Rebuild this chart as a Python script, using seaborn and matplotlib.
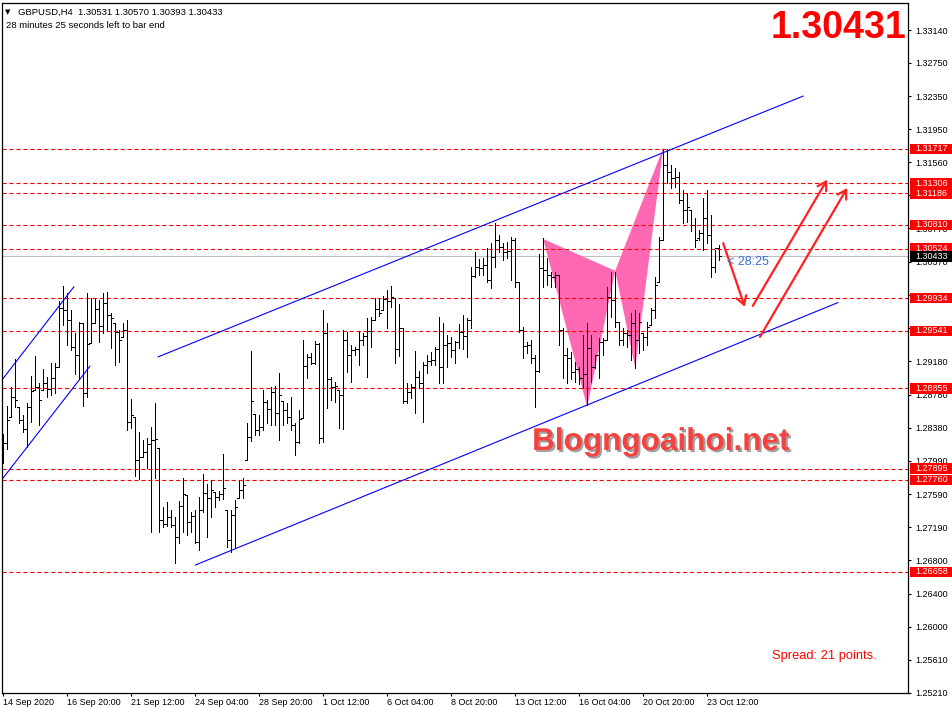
import numpy as np
import pandas as pd
import matplotlib
matplotlib.use('Agg')
import matplotlib.pyplot as plt
import matplotlib.patheffects as pe
from matplotlib.patches import Rectangle
from matplotlib.transforms import blended_transform_factory
import seaborn as sns

sns.set_theme(style='white')
plt.rcParams['font.family'] = ['Liberation Sans', 'DejaVu Sans']
plt.rcParams['lines.scale_dashes'] = False

# ---------------- data (GBPUSD H4 bars) ----------------
opens = [1.2806, 1.2820, 1.2851, 1.2875, 1.2863, 1.2848, 1.2837, 1.2863, 1.2884, 1.2887,
         1.2884, 1.2892, 1.2885, 1.2898, 1.2911, 1.2982, 1.2979, 1.2967, 1.2935, 1.2925,
         1.2964, 1.2880, 1.2940, 1.2964, 1.2980, 1.2960, 1.2988, 1.2973, 1.2964, 1.2953,
         1.2947, 1.2955, 1.2845, 1.2851, 1.2800, 1.2803, 1.2809, 1.2819, 1.2824, 1.2814,
         1.2728, 1.2723, 1.2732, 1.2722, 1.2707, 1.2745, 1.2758, 1.2725, 1.2733, 1.2702,
         1.2740, 1.2760, 1.2754, 1.2762, 1.2756, 1.2759, 1.2740, 1.2704, 1.2734, 1.2754,
         1.2764, 1.2800, 1.2827, 1.2855, 1.2836, 1.2839, 1.2869, 1.2861, 1.2881, 1.2856,
         1.2870, 1.2860, 1.2851, 1.2842, 1.2821, 1.2850, 1.2912, 1.2923, 1.2916, 1.2939,
         1.2826, 1.2952, 1.2896, 1.2887, 1.2884, 1.2878, 1.2943, 1.2925, 1.2931, 1.2933,
         1.2943, 1.2948, 1.2954, 1.2967, 1.2980, 1.2979, 1.2992, 1.2990, 1.2994, 1.2933,
         1.2957, 1.2870, 1.2881, 1.2887, 1.2899, 1.2892, 1.2913, 1.2918, 1.2919, 1.2933,
         1.2911, 1.2937, 1.2940, 1.2931, 1.2941, 1.2953, 1.2948, 1.2967, 1.3020, 1.3031,
         1.3029, 1.3033, 1.3015, 1.3043, 1.3063, 1.3055, 1.3049, 1.3050, 1.3063, 1.3013,
         1.2955, 1.2936, 1.2937, 1.2922, 1.2906, 1.3029, 1.3027, 1.3021, 1.3019, 1.3021,
         1.2955, 1.2925, 1.2922, 1.2905, 1.2908, 1.2898, 1.2902, 1.2934, 1.2911, 1.2925,
         1.2941, 1.2943, 1.2995, 1.2991, 1.2965, 1.2943, 1.2952, 1.2949, 1.2964, 1.2943,
         1.2952, 1.2947, 1.2961, 1.2979, 1.3013, 1.3063, 1.3153, 1.3144, 1.3137, 1.3138,
         1.3111, 1.3099, 1.3099, 1.3081, 1.3065, 1.3071, 1.3089, 1.3069, 1.3031, 1.30531]

highs = [1.2831, 1.2864, 1.2887, 1.2921, 1.2863, 1.2854, 1.2868, 1.2900, 1.2924, 1.2892,
         1.2909, 1.2899, 1.2916, 1.2916, 1.2990, 1.3008, 1.2999, 1.2979, 1.2952, 1.2965,
         1.2964, 1.2999, 1.2994, 1.2994, 1.2991, 1.2999, 1.3001, 1.2976, 1.2964, 1.2955,
         1.2964, 1.2967, 1.2873, 1.2851, 1.2833, 1.2824, 1.2826, 1.2839, 1.2868, 1.2814,
         1.2744, 1.2750, 1.2740, 1.2731, 1.2751, 1.2778, 1.2758, 1.2737, 1.2740, 1.2756,
         1.2783, 1.2771, 1.2776, 1.2762, 1.2763, 1.2807, 1.2740, 1.2740, 1.2752, 1.2774,
         1.2778, 1.2844, 1.2930, 1.2855, 1.2854, 1.2884, 1.2872, 1.2887, 1.2888, 1.2904,
         1.2870, 1.2868, 1.2875, 1.2844, 1.2860, 1.2943, 1.2927, 1.2928, 1.2942, 1.2940,
         1.2979, 1.2964, 1.2899, 1.2893, 1.2884, 1.2955, 1.2953, 1.2937, 1.2935, 1.2954,
         1.2952, 1.2970, 1.2971, 1.2994, 1.2992, 1.2996, 1.3003, 1.3008, 1.2994, 1.2986,
         1.2957, 1.2892, 1.2891, 1.2930, 1.2906, 1.2917, 1.2925, 1.2929, 1.2935, 1.2971,
         1.2964, 1.2949, 1.2947, 1.2942, 1.2962, 1.2973, 1.2970, 1.3031, 1.3049, 1.3040,
         1.3041, 1.3053, 1.3059, 1.3083, 1.3069, 1.3059, 1.3061, 1.3067, 1.3065, 1.3013,
         1.2959, 1.2941, 1.2943, 1.2925, 1.3046, 1.3065, 1.3041, 1.3025, 1.3025, 1.3021,
         1.2958, 1.2934, 1.2929, 1.2917, 1.2911, 1.2949, 1.2964, 1.2949, 1.2925, 1.2946,
         1.2946, 1.3007, 1.3024, 1.3025, 1.2965, 1.2958, 1.2955, 1.2976, 1.2979, 1.2976,
         1.2952, 1.2965, 1.2982, 1.3019, 1.3067, 1.3171, 1.31717, 1.3153, 1.3149, 1.3144,
         1.3123, 1.3119, 1.3099, 1.3089, 1.3075, 1.3113, 1.3123, 1.3093, 1.3051, 1.30570]

lows = [1.2796, 1.2813, 1.2851, 1.2863, 1.2844, 1.2833, 1.2815, 1.2845, 1.2884, 1.2842,
        1.2884, 1.2875, 1.2878, 1.2880, 1.2911, 1.2961, 1.2937, 1.2931, 1.2902, 1.2896,
        1.2864, 1.2875, 1.2940, 1.2964, 1.2941, 1.2952, 1.2955, 1.2934, 1.2913, 1.2917,
        1.2947, 1.2836, 1.2838, 1.2780, 1.2777, 1.2803, 1.2790, 1.2714, 1.2778, 1.2713,
        1.2720, 1.2721, 1.2720, 1.2677, 1.2701, 1.2714, 1.2710, 1.2713, 1.2701, 1.2692,
        1.2737, 1.2708, 1.2732, 1.2744, 1.2752, 1.2753, 1.2696, 1.2690, 1.2696, 1.2754,
        1.2754, 1.2800, 1.2823, 1.2830, 1.2830, 1.2836, 1.2844, 1.2842, 1.2842, 1.2824,
        1.2841, 1.2844, 1.2836, 1.2806, 1.2820, 1.2850, 1.2898, 1.2915, 1.2915, 1.2820,
        1.2821, 1.2862, 1.2872, 1.2869, 1.2838, 1.2837, 1.2905, 1.2893, 1.2925, 1.2913,
        1.2937, 1.2899, 1.2935, 1.2967, 1.2972, 1.2979, 1.2958, 1.2983, 1.2916, 1.2924,
        1.2868, 1.2868, 1.2874, 1.2856, 1.2886, 1.2845, 1.2904, 1.2913, 1.2913, 1.2892,
        1.2892, 1.2911, 1.2923, 1.2916, 1.2934, 1.2933, 1.2923, 1.2958, 1.3019, 1.3021,
        1.3021, 1.3013, 1.3006, 1.3031, 1.3049, 1.3039, 1.3041, 1.3015, 1.3007, 1.2953,
        1.2922, 1.2928, 1.2916, 1.2863, 1.2905, 1.3007, 1.3009, 1.3007, 1.3007, 1.2937,
        1.2898, 1.2892, 1.2896, 1.2893, 1.2890, 1.2886, 1.2866, 1.2893, 1.2910, 1.2898,
        1.2925, 1.2943, 1.2971, 1.2959, 1.2937, 1.2937, 1.2935, 1.2919, 1.2910, 1.2928,
        1.2931, 1.2937, 1.2961, 1.2970, 1.3013, 1.3063, 1.3131, 1.3125, 1.3126, 1.3107,
        1.3083, 1.3084, 1.3073, 1.3055, 1.3063, 1.3051, 1.3059, 1.3019, 1.3024, 1.30393]

closes = [1.2820, 1.2848, 1.2875, 1.2872, 1.2848, 1.2837, 1.2863, 1.2882, 1.2887, 1.2872,
          1.2892, 1.2885, 1.2898, 1.2911, 1.2982, 1.2979, 1.2967, 1.2935, 1.2925, 1.2964,
          1.2880, 1.2939, 1.2964, 1.2980, 1.2960, 1.2988, 1.2973, 1.2970, 1.2953, 1.2943,
          1.2955, 1.2845, 1.2854, 1.2800, 1.2803, 1.2809, 1.2819, 1.2824, 1.2825, 1.2728,
          1.2723, 1.2732, 1.2722, 1.2707, 1.2745, 1.2759, 1.2725, 1.2733, 1.2702, 1.2740,
          1.2760, 1.2754, 1.2764, 1.2756, 1.2759, 1.2766, 1.2704, 1.2734, 1.2743, 1.2764,
          1.2770, 1.2827, 1.2870, 1.2836, 1.2839, 1.2869, 1.2861, 1.2881, 1.2856, 1.2878,
          1.2860, 1.2851, 1.2842, 1.2821, 1.2849, 1.2912, 1.2923, 1.2916, 1.2939, 1.2826,
          1.2952, 1.2896, 1.2887, 1.2888, 1.2878, 1.2943, 1.2925, 1.2931, 1.2933, 1.2943,
          1.2948, 1.2954, 1.2967, 1.2980, 1.2976, 1.2992, 1.2990, 1.2995, 1.2933, 1.2957,
          1.2870, 1.2881, 1.2887, 1.2899, 1.2892, 1.2913, 1.2918, 1.2919, 1.2933, 1.2911,
          1.2937, 1.2940, 1.2931, 1.2941, 1.2953, 1.2948, 1.2967, 1.3020, 1.3031, 1.3029,
          1.3033, 1.3015, 1.3043, 1.3063, 1.3055, 1.3049, 1.3050, 1.3063, 1.3013, 1.2955,
          1.2936, 1.2937, 1.2922, 1.2906, 1.3029, 1.3027, 1.3021, 1.3019, 1.3021, 1.2955,
          1.2925, 1.2922, 1.2905, 1.2908, 1.2898, 1.2902, 1.2934, 1.2911, 1.2925, 1.2941,
          1.2943, 1.2995, 1.2991, 1.2965, 1.2943, 1.2952, 1.2949, 1.2964, 1.2943, 1.2965,
          1.2947, 1.2959, 1.2979, 1.3009, 1.3063, 1.3153, 1.3144, 1.3137, 1.3138, 1.3111,
          1.3099, 1.3102, 1.3081, 1.3063, 1.3071, 1.3089, 1.3069, 1.3031, 1.3053, 1.30433]

x_tick_bars = [0, 16, 32, 48, 64, 80, 96, 112, 128, 144, 160, 176]
x_tick_labels = ['14 Sep 2020', '16 Sep 20:00', '21 Sep 12:00', '24 Sep 04:00',
                 '28 Sep 20:00', '1 Oct 12:00', '6 Oct 04:00', '8 Oct 20:00',
                 '13 Oct 12:00', '16 Oct 04:00', '20 Oct 20:00', '23 Oct 12:00']

y_ticks = [1.25210, 1.25610, 1.26000, 1.26400, 1.26800, 1.27190, 1.27590, 1.27990,
           1.28380, 1.28780, 1.29180, 1.29570, 1.29970, 1.30370, 1.30770, 1.31170,
           1.31560, 1.31950, 1.32350, 1.32750, 1.33140]

levels = [1.31717, 1.31306, 1.31186, 1.30810, 1.30524, 1.29934, 1.29541,
          1.28855, 1.27895, 1.27760, 1.26658]
current_price = 1.30433

# trend lines (bar index, price)
channel_upper = [(38.7, 1.2923), (200.0, 1.3235)]
channel_lower = [(48.0, 1.2674), (208.7, 1.2988)]
small_upper = [(-0.05, 1.2897), (17.7, 1.3007)]
small_lower = [(-0.05, 1.2778), (21.7, 1.2912)]

# harmonic pattern points X, A, B, C, D
pattern_x = [135, 146, 153, 158, 165]
pattern_y = [1.3064, 1.2863, 1.3026, 1.2910, 1.3173]

# red arrows: (start, end)
arrows = [((180.0, 1.3059), (185.4, 1.2983)),
          ((187.4, 1.2984), (206.0, 1.3135)),
          ((189.2, 1.2947), (211.0, 1.3125))]

# ---------------- figure ----------------
W, H = 953, 707
fig = plt.figure(figsize=(W / 100, H / 100), dpi=100)
fig.patch.set_facecolor('white')
ax = fig.add_axes([2 / W, 14 / H, 906 / W, 690 / H])
ax.set_facecolor('white')
ax.set_xlim(-0.3, -0.3 + 906 / 4)
ax.set_ylim(1.25213, 1.33463)

# OHLC bars via seaborn lineplot (one unit per segment)
rows = []
for i in range(len(opens)):
    rows += [(3 * i, i, lows[i]), (3 * i, i, highs[i]),
             (3 * i + 1, i - 0.45, opens[i]), (3 * i + 1, i, opens[i]),
             (3 * i + 2, i, closes[i]), (3 * i + 2, i + 0.45, closes[i])]
seg = pd.DataFrame(rows, columns=['seg', 'x', 'y'])
sns.lineplot(data=seg, x='x', y='y', units='seg', estimator=None, sort=False,
             color='black', lw=0.68, antialiased=False, ax=ax, legend=False, zorder=3)
ax.set_xlabel('')
ax.set_ylabel('')

# pattern triangles
ax.fill(pattern_x[0:3], pattern_y[0:3], color='#FF69B4', lw=0, zorder=1.5)
ax.fill(pattern_x[2:5], pattern_y[2:5], color='#FF69B4', lw=0, zorder=1.5)

# horizontal levels
ax.axhline(current_price, color='#C0C0C0', lw=0.8, zorder=1)
for lv in levels:
    ax.axhline(lv, color='#FF0000', lw=0.8, ls=(0, (3.0, 2.0)), zorder=2)

# channel lines
for line in (channel_upper, channel_lower, small_upper, small_lower):
    ax.plot([p[0] for p in line], [p[1] for p in line], color='#0000FF', lw=0.8, zorder=2.5)

# arrows
for (s, e) in arrows:
    ax.annotate('', xy=e, xytext=s,
                arrowprops=dict(arrowstyle='->,head_length=0.5,head_width=0.3',
                                color='#FF2020', lw=1.6, shrinkA=0, shrinkB=0),
                zorder=4)

# axes styling
for sp in ax.spines.values():
    sp.set_color('black')
    sp.set_linewidth(0.9)
    sp.set_visible(True)

ax.yaxis.tick_right()
ax.set_yticks(y_ticks)
ax.set_yticklabels([f'{v:.5f}' for v in y_ticks])
ax.tick_params(axis='y', which='both', left=False, right=True, labelleft=False,
               labelright=True, direction='out', length=2.2, width=0.8, pad=3,
               labelsize=6.5, colors='black')
ax.set_xticks(x_tick_bars)
ax.set_xticklabels(x_tick_labels, ha='left')
ax.tick_params(axis='x', which='both', bottom=True, top=False, direction='out',
               length=2.5, width=0.8, pad=1.2, labelsize=6.5, colors='black')
ax.grid(False)

# price labels on right axis
trans = blended_transform_factory(ax.transAxes, ax.transData)
px_x = 1 / 906
half_h = 5.3 * (ax.get_ylim()[1] - ax.get_ylim()[0]) / 690
def price_tag(val, fc):
    ax.add_patch(Rectangle((1 + 2 * px_x, val - half_h), 42 * px_x, 2 * half_h,
                           transform=trans, facecolor=fc, edgecolor='none',
                           clip_on=False, zorder=6))
    ax.text(1 + 7 * px_x, val, f'{val:.5f}', transform=trans, color='white',
            fontsize=6.5, va='center', ha='left', clip_on=False, zorder=7)
for lv in levels:
    price_tag(lv, '#FF0000')
price_tag(current_price, 'black')

# texts
fig.text(8 / W, 1 - 12 / H, '\u25BC', family=['DejaVu Sans'], fontsize=5,
         va='center', ha='center', color='black')
fig.text(18 / W, 1 - 12 / H, 'GBPUSD,H4  1.30531 1.30570 1.30393 1.30433',
         fontsize=6.8, va='center', ha='left', color='black')
fig.text(6 / W, 1 - 25 / H, '28 minutes 25 seconds left to bar end',
         fontsize=6.8, va='center', ha='left', color='black')
fig.text(906 / W, 1 - 28 / H, '1.30431', color='#FF0000', fontsize=27,
         fontweight='bold', ha='right', va='center')
fig.text(661 / W, 1 - 442 / H, 'Blogngoaihoi.net', color='#F4433F', fontsize=22.7,
         fontweight='bold', ha='center', va='center',
         path_effects=[pe.SimplePatchShadow(offset=(1.5, -1.5), shadow_rgbFace='#8a8a8a',
                                            alpha=0.8), pe.Normal()])
fig.text(772 / W, 1 - 656 / H, 'Spread: 21 points.', color='#FF0000', fontsize=9.3,
         va='center', ha='left')
fig.text(727 / W, 1 - 262 / H, '< 28:25', color='#3A6FD8', fontsize=9,
         va='center', ha='left')

fig.savefig('out.png', dpi=100, facecolor='white')
